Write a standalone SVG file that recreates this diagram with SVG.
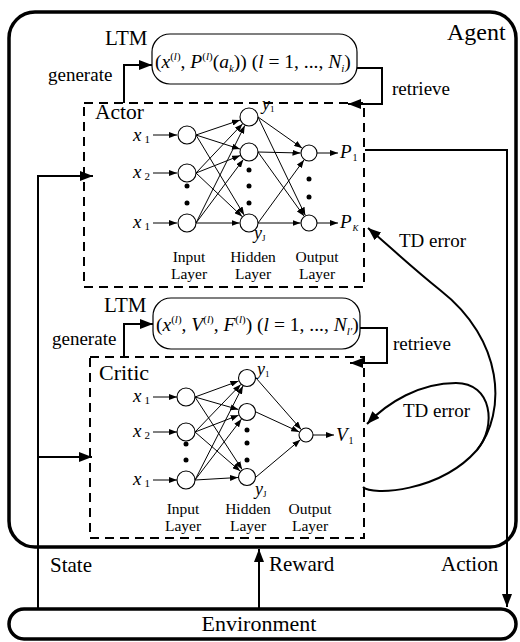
<svg xmlns="http://www.w3.org/2000/svg" width="520" height="642" viewBox="0 0 520 642" font-family="'Liberation Serif', 'DejaVu Serif', serif">
<defs>
<style>
text{font-family:"Liberation Serif","DejaVu Serif",serif;fill:#000}
.lay{font-size:15.5px;text-anchor:middle}
.it{font-style:italic}
.ltm{font-size:19.5px}
.conn{fill:none;stroke:#000;stroke-width:2}
.net{fill:none;stroke:#000;stroke-width:1}
.node{fill:#fff;stroke:#000;stroke-width:1.1}
.dash{fill:none;stroke:#000;stroke-width:2;stroke-dasharray:9,6}
.box{fill:#fff;stroke:#000;stroke-width:1.2}
</style>
<marker id="ah" markerUnits="userSpaceOnUse" markerWidth="13" markerHeight="10" refX="13" refY="5" orient="auto"><path d="M0,0 L13,5 L0,10 z" fill="#000"/></marker>
<marker id="as" markerUnits="userSpaceOnUse" markerWidth="8" markerHeight="6" refX="8" refY="3" orient="auto"><path d="M0,0 L8,3 L0,6 z" fill="#000"/></marker>
</defs>

<g id="agent">
<rect x="9" y="12" width="507" height="535" rx="26" fill="none" stroke="#000" stroke-width="3.5"/>
<text x="447" y="40" font-size="24">Agent</text>
</g>

<g id="environment">
<rect x="9" y="609" width="507" height="30" rx="15" fill="#fff" stroke="#000" stroke-width="3.5"/>
<text x="259" y="631" font-size="22" text-anchor="middle">Environment</text>
</g>

<g id="actor-ltm">
<text x="105" y="45" font-size="21">LTM</text>
<rect class="box" x="152" y="34" width="205" height="50" rx="18"/>
<text class="ltm" x="155" y="68">(<tspan class="it">x</tspan><tspan font-size="11" dy="-8">(</tspan><tspan font-size="11" class="it">l</tspan><tspan font-size="11">)</tspan><tspan dy="8">, </tspan><tspan class="it">P</tspan><tspan font-size="11" dy="-8">(</tspan><tspan font-size="11" class="it">l</tspan><tspan font-size="11">)</tspan><tspan dy="8">(</tspan><tspan class="it">a</tspan><tspan class="it" font-size="11" dy="4">k</tspan><tspan dy="-4">))  (</tspan><tspan class="it">l</tspan> = 1, ..., <tspan class="it">N</tspan><tspan class="it" font-size="11" dy="4">i</tspan><tspan dy="-4">)</tspan></text>
</g>

<g id="actor">
<rect class="dash" x="84" y="103" width="280" height="184"/>
<text x="95" y="119" font-size="21.5">Actor</text>
<circle class="node" cx="187" cy="135" r="9"/>
<circle class="node" cx="187" cy="173" r="9"/>
<circle class="node" cx="187" cy="223" r="9"/>
<circle class="node" cx="249" cy="117" r="9"/>
<circle class="node" cx="249" cy="152" r="9"/>
<circle class="node" cx="249" cy="223" r="9"/>
<circle class="node" cx="309" cy="153" r="8"/>
<circle class="node" cx="309" cy="223" r="8"/>
<g fill="#000">
<circle cx="187" cy="186" r="2.5"/><circle cx="187" cy="203" r="2.5"/>
<circle cx="249" cy="170" r="2.5"/><circle cx="249" cy="186" r="2.5"/><circle cx="249" cy="203" r="2.5"/>
<circle cx="309" cy="179" r="2.5"/><circle cx="309" cy="197" r="2.5"/>
</g>
<g class="net" marker-end="url(#as)">
<path d="M196,135 L240,120.1"/><path d="M196,135 L240,149.1"/><path d="M196,135 L244.1,214.9"/>
<path d="M196,173 L242.5,123.9"/><path d="M196,173 L240.2,155.5"/><path d="M196,173 L242.1,216.5"/>
<path d="M196,223 L244.8,125.5"/><path d="M196,223 L243.3,159.6"/><path d="M196,223 L239.5,223"/>
<path d="M258,117 L302.1,148.1"/><path d="M258,117 L305.3,215.3"/>
<path d="M258,152 L300.5,153"/><path d="M258,152 L304,216.1"/>
<path d="M258,223 L304,159.9"/><path d="M258,223 L300.5,223"/>
<path d="M153,135 L177,135"/><path d="M153,173 L177,173"/><path d="M153,223 L177,223"/>
<path d="M317,153 L338,153"/><path d="M317,223 L338,223"/>
</g>
<text x="133" y="141" font-size="19"><tspan class="it">x</tspan><tspan font-size="11" dx="3" dy="2">1</tspan></text>
<text x="133" y="178" font-size="19"><tspan class="it">x</tspan><tspan font-size="11" dx="3" dy="2">2</tspan></text>
<text x="133" y="228" font-size="19"><tspan class="it">x</tspan><tspan font-size="11" dx="3" dy="2">1</tspan></text>
<text x="262" y="110" font-size="18"><tspan class="it">y</tspan><tspan font-size="9" dy="2">1</tspan></text>
<text x="254" y="239" font-size="18"><tspan class="it">y</tspan><tspan font-size="9" dy="2">J</tspan></text>
<text x="340" y="158" font-size="19"><tspan class="it">P</tspan><tspan font-size="10" dx="1" dy="3">1</tspan></text>
<text x="340" y="228" font-size="19"><tspan class="it">P</tspan><tspan font-size="9" class="it" dx="1" dy="3">K</tspan></text>
<text class="lay" x="189" y="262">Input</text><text class="lay" x="189" y="279">Layer</text>
<text class="lay" x="253" y="262">Hidden</text><text class="lay" x="253" y="279">Layer</text>
<text class="lay" x="317" y="262">Output</text><text class="lay" x="317" y="279">Layer</text>
</g>

<g id="critic-ltm">
<text x="104" y="312" font-size="21">LTM</text>
<rect class="box" x="153" y="298" width="207" height="51" rx="18"/>
<text class="ltm" x="156" y="331">(<tspan class="it">x</tspan><tspan font-size="11" dy="-8">(</tspan><tspan font-size="11" class="it">l</tspan><tspan font-size="11">)</tspan><tspan dy="8">, </tspan><tspan class="it">V</tspan><tspan font-size="11" dy="-8">(</tspan><tspan font-size="11" class="it">l</tspan><tspan font-size="11">)</tspan><tspan dy="8">, </tspan><tspan class="it">F</tspan><tspan font-size="11" dy="-8">(</tspan><tspan font-size="11" class="it">l</tspan><tspan font-size="11">)</tspan><tspan dy="8">)  (</tspan><tspan class="it">l</tspan> = 1, ..., <tspan class="it">N</tspan><tspan class="it" font-size="11" dy="4">l′</tspan><tspan dy="-4">)</tspan></text>
</g>

<g id="critic">
<rect class="dash" x="90" y="357" width="274" height="181"/>
<text x="99" y="380" font-size="22">Critic</text>
<circle class="node" cx="186" cy="397" r="9"/>
<circle class="node" cx="186" cy="432" r="9"/>
<circle class="node" cx="186" cy="480" r="9"/>
<circle class="node" cx="247" cy="378" r="8.5"/>
<circle class="node" cx="247" cy="412" r="8.5"/>
<circle class="node" cx="247" cy="477" r="8.5"/>
<circle class="node" cx="306" cy="435" r="7"/>
<g fill="#000">
<circle cx="186" cy="444" r="2.5"/><circle cx="186" cy="460" r="2.5"/>
<circle cx="247" cy="430" r="2.5"/><circle cx="247" cy="443" r="2.5"/><circle cx="247" cy="460" r="2.5"/>
</g>
<g class="net" marker-end="url(#as)">
<path d="M195,397 L238.5,381.1"/><path d="M195,397 L238.4,409.5"/><path d="M195,397 L242.1,469.4"/>
<path d="M195,432 L240.8,384.5"/><path d="M195,432 L238.6,415.2"/><path d="M195,432 L240.2,471.1"/>
<path d="M195,480 L242.9,386"/><path d="M195,480 L241.5,419.1"/><path d="M195,480 L238,477.5"/>
<path d="M256,378 L301.1,429.4"/><path d="M256,412 L299.2,431.9"/><path d="M256,477 L300.3,439.8"/>
<path d="M153,397 L177,397"/><path d="M153,432 L177,432"/><path d="M153,480 L177,480"/>
<path d="M313,435 L334,435"/>
</g>
<text x="133" y="402" font-size="19"><tspan class="it">x</tspan><tspan font-size="11" dx="3" dy="2">1</tspan></text>
<text x="133" y="437" font-size="19"><tspan class="it">x</tspan><tspan font-size="11" dx="3" dy="2">2</tspan></text>
<text x="133" y="485" font-size="19"><tspan class="it">x</tspan><tspan font-size="11" dx="3" dy="2">1</tspan></text>
<text x="257" y="375" font-size="18"><tspan class="it">y</tspan><tspan font-size="9" dy="2">1</tspan></text>
<text x="255" y="495" font-size="18"><tspan class="it">y</tspan><tspan font-size="9" dy="2">J</tspan></text>
<text x="336" y="441" font-size="19"><tspan class="it">V</tspan><tspan font-size="10" dx="1" dy="3">1</tspan></text>
<text class="lay" x="183" y="514">Input</text><text class="lay" x="183" y="531">Layer</text>
<text class="lay" x="248" y="514">Hidden</text><text class="lay" x="248" y="531">Layer</text>
<text class="lay" x="310" y="514">Output</text><text class="lay" x="310" y="531">Layer</text>
</g>

<g id="connectors">
<path class="conn" d="M124,103 V65 H152" marker-end="url(#ah)"/>
<path class="conn" d="M357,68 H382 V104 H348" marker-end="url(#ah)"/>
<path class="conn" d="M124,357 V324 H153" marker-end="url(#ah)"/>
<path class="conn" d="M360,328 H387 V363 H350" marker-end="url(#ah)"/>
<path class="conn" d="M38,609 V176 H93" marker-end="url(#ah)"/>
<path class="conn" d="M38,457 H92" marker-end="url(#ah)"/>
<path class="conn" d="M259,609 V549" marker-end="url(#ah)"/>
<path class="conn" d="M365,150 H507 V607" marker-end="url(#ah)"/>
<path class="conn" d="M363,487 C372,496 440,492 477,450 C497,426 492,383 456,383 C420,383 388,402 367,424" marker-end="url(#ah)"/>
<path class="conn" d="M477,450 C507,412 504,340 440,290 C410,266 388,245 368,228" marker-end="url(#ah)"/>
<text x="48" y="81" font-size="19">generate</text>
<text x="392" y="95" font-size="19">retrieve</text>
<text x="52" y="345" font-size="19">generate</text>
<text x="393" y="350" font-size="19">retrieve</text>
<text x="399" y="247" font-size="19">TD error</text>
<text x="403" y="417" font-size="19">TD error</text>
<text x="50" y="572" font-size="21">State</text>
<text x="269" y="571" font-size="21">Reward</text>
<text x="441" y="571" font-size="21">Action</text>
</g>
</svg>
